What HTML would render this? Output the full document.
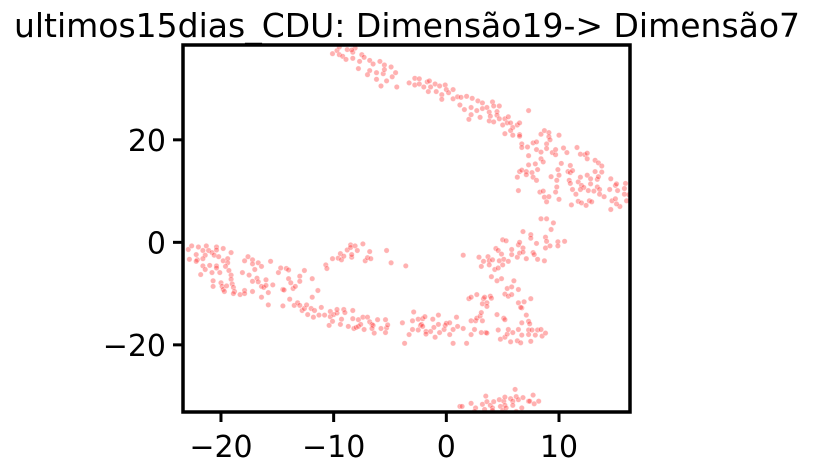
<!DOCTYPE html>
<html><head><meta charset="utf-8"><style>
html,body{margin:0;padding:0;background:#fff;}
svg{display:block;font-family:"DejaVu Sans","Liberation Sans",sans-serif;}
</style></head><body>
<svg id="chart" width="814" height="475">
<text x="407" y="37" text-anchor="middle" font-size="33" fill="#000">ultimos15dias_CDU: Dimensão19-&gt; Dimensão7</text>
<defs><clipPath id="pc"><rect x="183" y="45" width="447" height="367"/></clipPath></defs>
<g id="points" clip-path="url(#pc)"></g>
<g id="axes"></g>
</svg>
<script>
const xTicks=[-20,-10,0,10];
const yTicks=[-20,0,20];
const xTickLabels=["−20","−10","0","10"];
const yTickLabels=["−20","0","20"];
const xs=[-10.1,-9.7,-9.5,-8.8,-9.2,-8.9,-8.3,-8.3,-8.1,-7.5,-7.3,-7.7,-7.8,-6.8,-6.5,-5.9,-5.5,-4.9,-4.5,-6.8,-6.2,-5.6,-7.0,-6.2,-5.3,-5.8,-4.8,-4.4,-5.5,-9.5,-8.4,
-3.3,-2.8,-2.8,-2.4,-2.4,-2.0,-1.7,-1.5,-1.4,-1.6,-1.0,-0.9,-0.6,-0.1,0.0,-0.4,-0.4,0.2,0.6,0.6,1.0,1.3,1.8,2.3,1.2,1.6,2.2,2.0,2.2,2.8,2.7,3.2,3.2,3.0,3.6,3.8,3.9,3.8,4.1,4.2,4.7,4.5,4.5,4.7,4.2,5.0,5.2,5.5,5.4,5.7,5.9,5.7,5.2,5.9,6.3,6.5,6.5,7.3,
6.5,6.7,6.7,7.2,7.7,8.0,8.0,8.4,8.4,8.7,9.1,9.1,9.2,8.9,8.9,9.4,9.7,9.7,10.0,10.4,10.7,11.6,11.9,12.3,12.5,12.5,13.2,13.5,13.8,7.3,8.4,8.6,7.9,7.3,6.5,6.7,7.1,7.1,7.6,8.1,7.7,8.0,6.3,6.4,8.3,8.6,8.7,8.9,9.1,9.3,9.9,10.0,9.8,9.8,9.7,10.0,10.2,10.8,11.0,11.0,11.2,10.9,11.0,11.2,11.5,11.1,11.7,12.0,12.4,12.7,12.9,11.7,11.9,12.0,12.2,11.9,12.5,12.8,12.8,12.6,13.1,13.4,13.4,13.5,13.2,13.8,13.6,13.6,14.0,14.5,14.7,14.6,15.0,15.1,15.2,15.0,15.4,15.1,14.6,15.9,15.8,15.8,16.0,16.2,8.4,8.9,9.5,
-22.9,-22.6,-22.0,-21.3,-22.2,-21.6,-21.4,-21.6,-21.1,-20.8,-20.6,-20.4,-20.4,-19.8,-20.2,-22.8,-22.1,-22.2,-19.8,-19.4,-19.4,-19.1,-21.6,-21.4,-21.8,-21.0,-20.8,-20.4,-20.4,-20.1,-20.7,-20.7,-20.0,-19.9,-19.8,-19.7,-19.5,-19.6,-19.3,-19.1,-19.1,-19.0,-18.9,-18.8,-18.9,-18.3,-17.9,-17.9,-18.1,-17.9,-17.6,-17.2,-17.2,-17.0,-17.5,-17.2,-17.2,-16.8,-16.7,-16.7,-16.4,-16.4,-16.2,-16.0,-16.0,-16.4,-15.8,-15.8,-15.6,-15.4,-14.9,-14.7,-14.5,-14.4,-14.5,-14.2,-14.0,-14.0,-13.8,-13.9,-13.6,-13.4,-13.5,-13.2,-13.0,-13.0,-13.0,-12.6,-12.8,-12.6,-12.4,-12.3,-11.9,-11.9,-12.0,-11.7,-11.8,-11.4,-11.1,-11.3,-10.8,-10.4,-10.3,-10.3,-10.1,-10.0,-9.7,-9.7,-9.4,-9.3,-9.1,-9.0,-8.7,-8.3,-8.3,-8.2,-8.0,-7.8,-7.8,-7.6,-7.4,-7.3,-7.0,-6.8,-6.6,-6.5,-6.4,-6.6,-6.1,-5.8,-5.4,-5.3,-5.2,-5.4,
-10.7,-10.6,-10.1,-9.6,-9.4,-9.3,-9.1,-8.8,-8.5,-8.5,-8.4,-8.4,-8.1,-7.9,-7.4,-7.2,-7.0,-6.8,-6.7,-5.3,-4.9,-3.6,
-3.9,-3.7,-3.3,-3.0,-2.9,-3.0,-2.5,-2.5,-2.3,-2.2,-2.1,-2.1,-1.9,-1.8,-1.8,-1.4,-1.2,-1.1,-1.0,-0.7,-0.7,-0.6,-0.2,-0.1,0.0,0.3,0.3,0.6,0.6,0.9,1.0,1.5,1.8,2.2,2.2,2.5,2.6,2.7,3.0,3.1,3.1,3.2,3.5,3.6,4.5,4.6,4.8,5.1,5.2,5.2,5.4,5.5,5.7,5.9,6.3,6.4,6.6,6.7,6.7,7.3,7.4,7.3,7.5,7.3,7.6,7.9,8.1,8.4,8.5,8.8,7.1,6.7,
2.0,2.2,2.7,3.3,3.4,3.2,3.6,3.6,3.9,4.0,4.9,5.2,5.4,5.5,5.8,5.8,6.0,6.4,6.4,6.6,6.9,7.5,4.5,4.0,
1.5,2.9,3.1,3.3,3.7,3.8,3.8,4.1,4.3,4.4,4.6,4.7,4.6,4.9,5.0,5.1,5.0,5.3,5.5,5.8,5.8,6.3,6.5,6.4,6.5,6.8,6.8,6.8,7.1,7.5,7.5,7.7,7.8,8.0,8.1,8.7,8.8,8.8,8.9,9.2,9.3,9.9,9.9,10.5,
1.2,1.4,2.2,2.6,2.5,3.2,3.4,3.5,3.6,3.9,4.1,4.1,4.2,4.7,4.8,5.0,5.1,5.2,5.2,5.3,5.7,5.9,5.9,6.1,6.2,6.2,6.4,6.7,6.8,7.3,7.4,7.7,7.8,8.2];
const ys=[36.8,37.4,36.6,37.6,36.3,35.7,35.9,37.1,37.9,36.6,36.1,35.3,33.9,35.5,34.8,35.3,34.6,34.2,33.1,33.5,33.1,32.9,32.7,31.8,31.5,30.5,32.3,30.3,33.7,38.1,37.5,
31.1,32.0,30.7,31.9,30.9,30.3,31.3,31.5,30.3,29.4,30.9,29.4,30.5,30.7,29.8,28.8,27.9,29.2,29.8,28.0,28.4,28.3,28.5,28.1,26.8,25.9,26.3,24.0,24.9,27.6,25.7,27.2,26.1,24.4,26.3,25.4,24.6,23.7,27.4,26.6,26.6,25.5,24.8,24.1,23.5,22.9,24.1,24.5,23.3,23.3,22.4,21.8,21.2,20.9,22.9,23.3,21.0,25.7,
20.7,19.2,18.5,18.6,19.4,19.6,18.1,17.6,21.1,21.8,21.4,20.6,20.0,19.2,18.3,17.5,17.1,18.1,20.9,18.4,17.5,18.5,17.2,17.1,17.4,16.3,16.0,15.5,14.9,16.9,16.3,15.7,15.3,15.1,13.8,14.1,13.8,13.2,13.6,14.2,12.7,12.1,12.7,10.1,9.8,10.0,8.8,7.9,8.9,12.8,14.2,13.1,12.1,10.8,9.8,8.4,15.4,13.8,13.6,15.0,14.0,12.1,11.5,10.3,9.4,7.3,8.0,7.7,7.2,8.1,7.9,11.8,12.7,11.1,10.7,10.3,13.1,12.4,11.4,10.1,10.0,10.8,12.3,12.8,13.8,13.7,10.3,9.4,8.9,10.3,8.1,12.4,11.1,11.4,10.1,8.5,7.0,7.5,6.4,11.5,10.5,9.4,8.1,9.3,4.6,4.6,3.8,
-1.4,-0.7,-0.9,-0.7,-2.4,-1.6,-2.5,-3.2,-1.6,-2.0,-2.5,-0.9,-1.5,-1.2,-2.8,-3.3,-3.4,-3.7,-3.6,-3.2,-4.0,-2.0,-4.6,-5.3,-6.3,-4.5,-5.9,-4.6,-5.0,-5.9,-7.5,-8.6,-7.9,-8.6,-9.2,-9.6,-8.5,-4.7,-5.5,-6.4,-7.2,-8.1,-8.8,-9.6,-10.0,-10.2,-9.4,-10.0,-5.9,-3.6,-2.8,-3.4,-4.2,-5.3,-6.4,-7.6,-9.6,-7.0,-7.7,-4.0,-4.7,-8.6,-8.8,-8.4,-7.3,-10.7,-9.8,-12.2,-3.7,-8.3,-5.9,-5.0,-9.2,-9.3,-12.4,-5.1,-5.4,-7.1,-7.9,-11.1,-9.0,-8.6,-12.3,-11.8,-12.3,-6.6,-7.6,-5.5,-13.3,-12.9,-12.2,-14.1,-7.1,-10.7,-12.9,-13.3,-14.6,-9.4,-12.7,-14.2,-14.2,-16.2,-13.5,-14.5,-15.4,-14.1,-13.8,-13.1,-16.0,-15.0,-13.1,-13.7,-16.4,-13.3,-14.9,-16.8,-16.6,-16.4,-15.1,-16.0,-14.6,-17.0,-14.6,-15.5,-16.0,-16.2,-17.7,-16.8,-15.1,-16.8,-15.1,-16.7,-16.1,-17.6,
-4.4,-5.1,-3.2,-3.1,-2.2,-3.4,-2.7,-1.5,-0.5,-1.0,-2.9,-2.4,-0.7,-1.6,-0.3,-3.6,-3.0,-1.8,-3.2,-1.6,-4.0,-4.6,
-15.7,-19.7,-18.0,-15.3,-13.6,-17.0,-15.0,-17.1,-16.2,-16.0,-16.4,-14.9,-14.5,-17.4,-17.9,-17.4,-15.0,-16.6,-18.5,-16.0,-14.2,-17.6,-17.0,-16.2,-15.8,-15.7,-18.0,-17.0,-19.7,-14.6,-16.4,-16.8,-19.7,-15.3,-18.0,-17.0,-15.3,-14.8,-14.4,-13.7,-17.6,-15.3,-17.6,-17.7,-14.1,-17.1,-18.9,-14.8,-15.1,-18.5,-17.9,-17.0,-19.4,-17.6,-19.2,-17.0,-19.6,-18.1,-15.7,-15.4,-15.9,-17.1,-19.3,-18.0,-17.1,-18.1,-17.1,-17.0,-18.3,-17.7,-14.2,-12.8,
-11.0,-10.7,-10.2,-11.0,-10.7,-12.0,-11.8,-12.5,-10.5,-10.9,-7.1,-10.1,-9.0,-10.5,-10.2,-8.7,-7.5,-9.2,-11.8,-12.7,-11.6,-11.0,-7.5,-6.7,
-2.5,-2.9,-4.7,-3.7,-2.8,-3.6,-4.4,-3.4,-5.3,-1.2,-1.6,-3.6,-5.0,-2.3,-4.4,-3.3,0.5,0.3,-3.7,-2.4,-1.4,-2.9,-2.1,-0.5,0.0,-1.1,-1.9,2.1,-3.2,1.5,0.8,-2.0,-2.4,-0.2,-3.3,-3.6,-1.1,1.0,0.2,-0.7,2.5,0.1,-0.7,0.2,
-32.0,-32.0,-31.4,-32.3,-33.0,-31.6,-32.6,-30.0,-31.1,-31.8,-32.3,-32.8,-31.1,-30.7,-32.0,-32.8,-31.0,-30.2,-31.8,-32.3,-30.5,-31.0,-31.8,-28.7,-30.1,-33.0,-30.7,-32.3,-30.3,-31.0,-31.0,-29.8,-31.5,-31.0];

const NS="http://www.w3.org/2000/svg";
const L=183,R=630,T=45,B=412;
const xMin=-23.37,xMax=16.3,yMin=-33.1,yMax=38.5;
function sx(v){return L+(v-xMin)/(xMax-xMin)*(R-L);}
function sy(v){return B-(v-yMin)/(yMax-yMin)*(B-T);}
const pg=document.getElementById('points');
const n=Math.min(xs.length,ys.length);
for(let i=0;i<n;i++){
  const c=document.createElementNS(NS,'circle');
  c.setAttribute('cx',sx(xs[i]).toFixed(1));
  c.setAttribute('cy',sy(ys[i]).toFixed(1));
  c.setAttribute('r','2.7');
  c.setAttribute('fill','rgba(255,50,50,0.38)');
  c.setAttribute('stroke','rgba(255,255,255,0.5)');
  c.setAttribute('stroke-width','0.6');
  
  
  pg.appendChild(c);
}
const ag=document.getElementById('axes');
const frame=document.createElementNS(NS,'rect');
frame.setAttribute('x',L);frame.setAttribute('y',T);
frame.setAttribute('width',R-L);frame.setAttribute('height',B-T);
frame.setAttribute('fill','none');frame.setAttribute('stroke','#000');frame.setAttribute('stroke-width','3.5');


ag.appendChild(frame);
xTicks.forEach((v,i)=>{
  const x=sx(v);
  const t=document.createElementNS(NS,'line');
  t.setAttribute('x1',x);t.setAttribute('x2',x);t.setAttribute('y1',B);t.setAttribute('y2',B+10);
  t.setAttribute('stroke','#000');t.setAttribute('stroke-width','3');
  
  
  ag.appendChild(t);
  const tx=document.createElementNS(NS,'text');
  tx.setAttribute('x',x);tx.setAttribute('y',457);tx.setAttribute('text-anchor','middle');tx.setAttribute('font-size','30');
  tx.textContent=xTickLabels[i];
  
  
  ag.appendChild(tx);
});
yTicks.forEach((v,i)=>{
  const y=sy(v);
  const t=document.createElementNS(NS,'line');
  t.setAttribute('x1',L-10);t.setAttribute('x2',L);t.setAttribute('y1',y);t.setAttribute('y2',y);
  t.setAttribute('stroke','#000');t.setAttribute('stroke-width','3');
  
  
  ag.appendChild(t);
  const tx=document.createElementNS(NS,'text');
  tx.setAttribute('x',L-17);tx.setAttribute('y',y+11);tx.setAttribute('text-anchor','end');tx.setAttribute('font-size','30');
  tx.textContent=yTickLabels[i];
  
  
  ag.appendChild(tx);
});
</script>
</body></html>
